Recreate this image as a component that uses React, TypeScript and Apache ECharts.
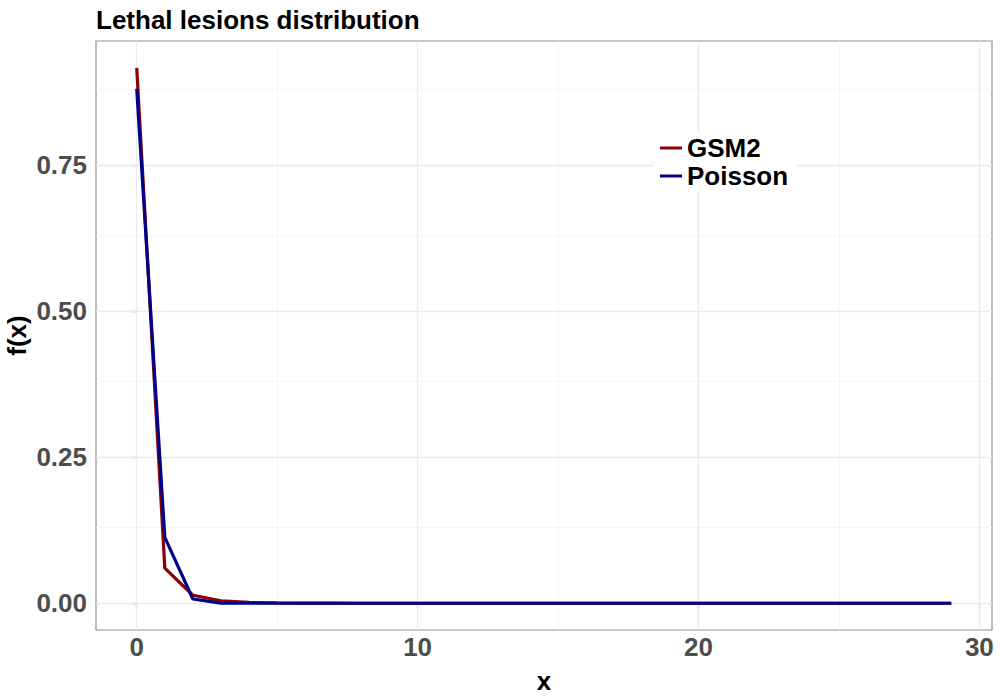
import React, { useEffect, useRef } from "react";
import * as echarts from "echarts";

const xs: number[] = Array.from({ length: 30 }, (_, i) => i);
const gsm2: number[] = [
  0.916, 0.06, 0.0137, 0.0042, 0.0014, 0.0005, 0.0002, 0.0001, 0, 0,
  0, 0, 0, 0, 0, 0, 0, 0, 0, 0,
  0, 0, 0, 0, 0, 0, 0, 0, 0, 0,
];
const poisson: number[] = [
  0.88, 0.1126, 0.0072, 0.0003, 0.00001, 0, 0, 0, 0, 0,
  0, 0, 0, 0, 0, 0, 0, 0, 0, 0,
  0, 0, 0, 0, 0, 0, 0, 0, 0, 0,
];
const xMajor = [0, 10, 20, 30];
const xMinor = [5, 15, 25];
const yMajor = [0, 0.25, 0.5, 0.75];
const yMinor = [0.125, 0.375, 0.625, 0.875];

const FONT = "Liberation Sans";

export default function App() {
  const ref = useRef<HTMLDivElement>(null);
  useEffect(() => {
    if (!ref.current) return;
    const chart = echarts.init(ref.current, null, { renderer: "svg" });
    const gridLines = [
      ...xMinor.map((v) => ({ xAxis: v, lineStyle: { color: "#f4f4f4", width: 0.8, type: "solid" } })),
      ...yMinor.map((v) => ({ yAxis: v, lineStyle: { color: "#f4f4f4", width: 0.8, type: "solid" } })),
      ...xMajor.map((v) => ({ xAxis: v, lineStyle: { color: "#ebebeb", width: 1.3, type: "solid" } })),
      ...yMajor.map((v) => ({ yAxis: v, lineStyle: { color: "#ebebeb", width: 1.3, type: "solid" } })),
    ];
    chart.setOption({
      animation: false,
      backgroundColor: "#ffffff",
      title: {
        text: "Lethal lesions distribution",
        left: 91,
        top: 2,
        textStyle: { fontFamily: FONT, fontWeight: "bold", fontSize: 26, color: "#000" },
      },
      grid: {
        left: 96,
        top: 41,
        right: 8,
        bottom: 70,
        outerBoundsMode: "none",
        containLabel: false,
        show: true,
        borderColor: "#8f8f8f",
        borderWidth: 1.2,
        backgroundColor: "transparent",
      },
      legend: {
        orient: "vertical",
        left: 654,
        top: 133,
        padding: [2, 8, 2, 6],
        backgroundColor: "#ffffff",
        icon: "rect",
        itemWidth: 22,
        itemHeight: 3,
        itemGap: 2,
        textStyle: { fontFamily: FONT, fontWeight: "bold", fontSize: 26, color: "#000", lineHeight: 25 },
        data: ["GSM2", "Poisson"],
      },
      xAxis: {
        type: "value",
        min: -1.45,
        max: 30.45,
        name: "x",
        nameLocation: "middle",
        nameGap: 38,
        nameMoveOverlap: false,
        nameTextStyle: { fontFamily: FONT, fontWeight: "bold", fontSize: 26, color: "#000" },
        axisLine: { show: false },
        axisTick: { show: true, customValues: xMajor, length: 5, lineStyle: { color: "#333", width: 1.2 } },
        axisLabel: {
          customValues: xMajor,
          fontFamily: FONT,
          fontWeight: "bold",
          fontSize: 26,
          color: "#4d4d4d",
          margin: 4,
        },
        splitLine: { show: false },
      },
      yAxis: {
        type: "value",
        min: -0.0458,
        max: 0.962,
        name: "f(x)",
        nameLocation: "middle",
        nameGap: 66,
        nameMoveOverlap: false,
        nameRotate: 90,
        nameTextStyle: { fontFamily: FONT, fontWeight: "bold", fontSize: 26, color: "#000" },
        axisLine: { show: false },
        axisTick: { show: true, customValues: yMajor, length: 5, lineStyle: { color: "#333", width: 1.2 } },
        axisLabel: {
          customValues: yMajor,
          formatter: (v: number) => v.toFixed(2),
          fontFamily: FONT,
          fontWeight: "bold",
          fontSize: 26,
          color: "#4d4d4d",
          margin: 9,
        },
        splitLine: { show: false },
      },
      series: [
        {
          name: "GSM2",
          type: "line",
          data: xs.map((x, i) => [x, gsm2[i]]),
          showSymbol: false,
          lineStyle: { color: "#8B0000", width: 3.2 },
          itemStyle: { color: "#8B0000" },
          z: 3,
          markLine: {
            silent: true,
            symbol: "none",
            label: { show: false },
            data: gridLines,
            z: 1,
          },
        },
        {
          name: "Poisson",
          type: "line",
          data: xs.map((x, i) => [x, poisson[i]]),
          showSymbol: false,
          lineStyle: { color: "#00008B", width: 3.2 },
          itemStyle: { color: "#00008B" },
          z: 4,
        },
      ],
    });
    return () => chart.dispose();
  }, []);
  return <div ref={ref} style={{ width: 1000, height: 700, position: "absolute", left: 0, top: 0 }} />;
}
